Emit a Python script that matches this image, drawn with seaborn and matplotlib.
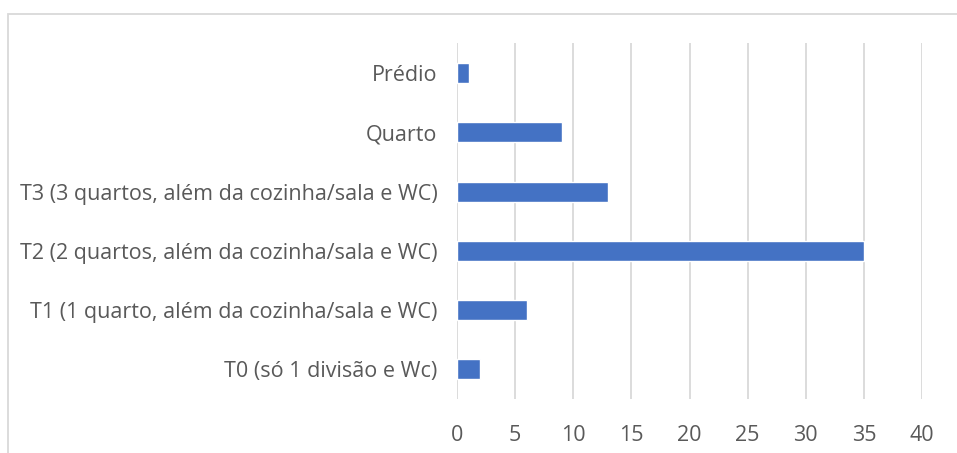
import matplotlib
matplotlib.use("Agg")
import matplotlib.pyplot as plt
import seaborn as sns
import pandas as pd
from matplotlib.patches import Rectangle

# data (top to bottom)
categories = [
    "Prédio",
    "Quarto",
    "T3 (3 quartos, além da cozinha/sala e WC)",
    "T2 (2 quartos, além da cozinha/sala e WC)",
    "T1 (1 quarto, além da cozinha/sala e WC)",
    "T0 (só 1 divisão e Wc)",
]
counts = [1, 9, 13, 35, 6, 2]
x_ticks = [0, 5, 10, 15, 20, 25, 30, 35, 40]

df = pd.DataFrame({"tipo": categories, "n": counts})

sns.set_style("white")
plt.rcParams["font.family"] = ["Open Sans", "DejaVu Sans"]

fig = plt.figure(figsize=(9.57, 4.53), dpi=100)
ax = fig.add_axes([457 / 957, 1 - 399 / 453, 465 / 957, 355.5 / 453])

# chart frame like the Excel chart area border
fig.patches.append(Rectangle((8 / 957, -0.1), 1.0, 1 - 14 / 453 + 0.1,
                             transform=fig.transFigure, fill=False,
                             edgecolor="#d9d9d9", linewidth=1.3))

sns.barplot(data=df, y="tipo", x="n", color="#4472C4", width=0.34,
            saturation=1, ax=ax, zorder=3)

ax.set_xlim(0, 40)
ax.set_ylim(5.5, -0.5)
ax.set_xticks(x_ticks)
ax.xaxis.grid(True, color="#d9d9d9", linewidth=1.3, zorder=0)
ax.set_axisbelow(True)
for s in ax.spines.values():
    s.set_visible(False)
ax.tick_params(axis="both", length=0, labelsize=15.5, labelcolor="#595959")
ax.tick_params(axis="x", pad=19)
ax.tick_params(axis="y", pad=14)
ax.set_xlabel("")
ax.set_ylabel("")

fig.savefig("out.png", dpi=100)
